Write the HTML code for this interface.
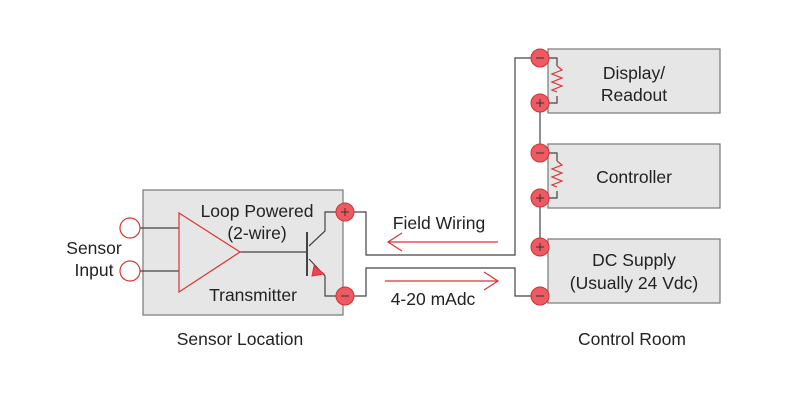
<!DOCTYPE html>
<html><head><style>body{margin:0;background:#fff}svg{display:block}text{font-family:"Liberation Sans",sans-serif;fill:#222}</style></head><body>
<svg width="800" height="400" viewBox="0 0 800 400">
<g fill="#e6e6e6" stroke="#777" stroke-width="1.2">
<rect x="143" y="190" width="200" height="125"/>
<rect x="548" y="49" width="172" height="64"/>
<rect x="548" y="144" width="172" height="64"/>
<rect x="548" y="239" width="172" height="64"/>
</g>
<g fill="none" stroke="#444" stroke-width="1.2">
<path d="M345 212H366V255H515V58H540"/>
<path d="M345 296H366V268H515V296H540"/>
<path d="M540 103V153M540 198V247"/>
<path d="M140 228H179M140 271H179M240 252H307"/>
<path d="M307 232V276" stroke-width="2"/>
<path d="M309 246L325 231V212H345M309 259L325 276V296H345"/>
<path d="M540 58H557V66M557 96V103H540M540 153H557V161M557 191V198H540"/>
</g>
<g fill="none" stroke="#d33" stroke-width="1.2">
<path d="M557 66l5 4-10 4 10 4-10 4 10 4-10 4 5 2"/>
<path d="M557 161l5 4-10 4 10 4-10 4 10 4-10 4 5 2"/>
<polygon points="179,213 240,252 179,292"/>
<circle cx="130" cy="228" r="10"/><circle cx="130" cy="271" r="10"/>
<path d="M498 242H388M402 233L388 242L402 251"/>
<path d="M385 281H498M484 272L498 281L484 290"/>
</g>
<polygon points="314,266 324,274 312,276" fill="#e45" stroke="#d33"/>
<g fill="#ef5a62" stroke="#c33" stroke-width="1">
<circle cx="345" cy="212" r="9"/><circle cx="345" cy="296" r="9"/>
<circle cx="540" cy="58" r="9"/><circle cx="540" cy="103" r="9"/>
<circle cx="540" cy="153" r="9"/><circle cx="540" cy="198" r="9"/>
<circle cx="540" cy="247" r="9"/><circle cx="540" cy="296" r="9"/>
</g>
<g stroke="#333" stroke-width="1">
<path d="M341 212h8M345 208v8M341 296h8M536 58h8M536 103h8M540 99v8M536 153h8M536 198h8M540 194v8M536 247h8M540 243v8M536 296h8"/>
</g>
<g font-size="17.5" text-anchor="middle">
<text x="257" y="217">Loop Powered</text>
<text x="257" y="239">(2-wire)</text>
<text x="253" y="301">Transmitter</text>
<text x="94" y="254">Sensor</text>
<text x="94" y="276">Input</text>
<text x="634" y="79">Display/</text>
<text x="634" y="101">Readout</text>
<text x="634" y="183">Controller</text>
<text x="634" y="266">DC Supply</text>
<text x="634" y="289">(Usually 24 Vdc)</text>
<text x="439" y="229">Field Wiring</text>
<text x="433" y="305">4-20 mAdc</text>
<text x="240" y="345">Sensor Location</text>
<text x="632" y="345">Control Room</text>
</g>
</svg>
</body></html>
